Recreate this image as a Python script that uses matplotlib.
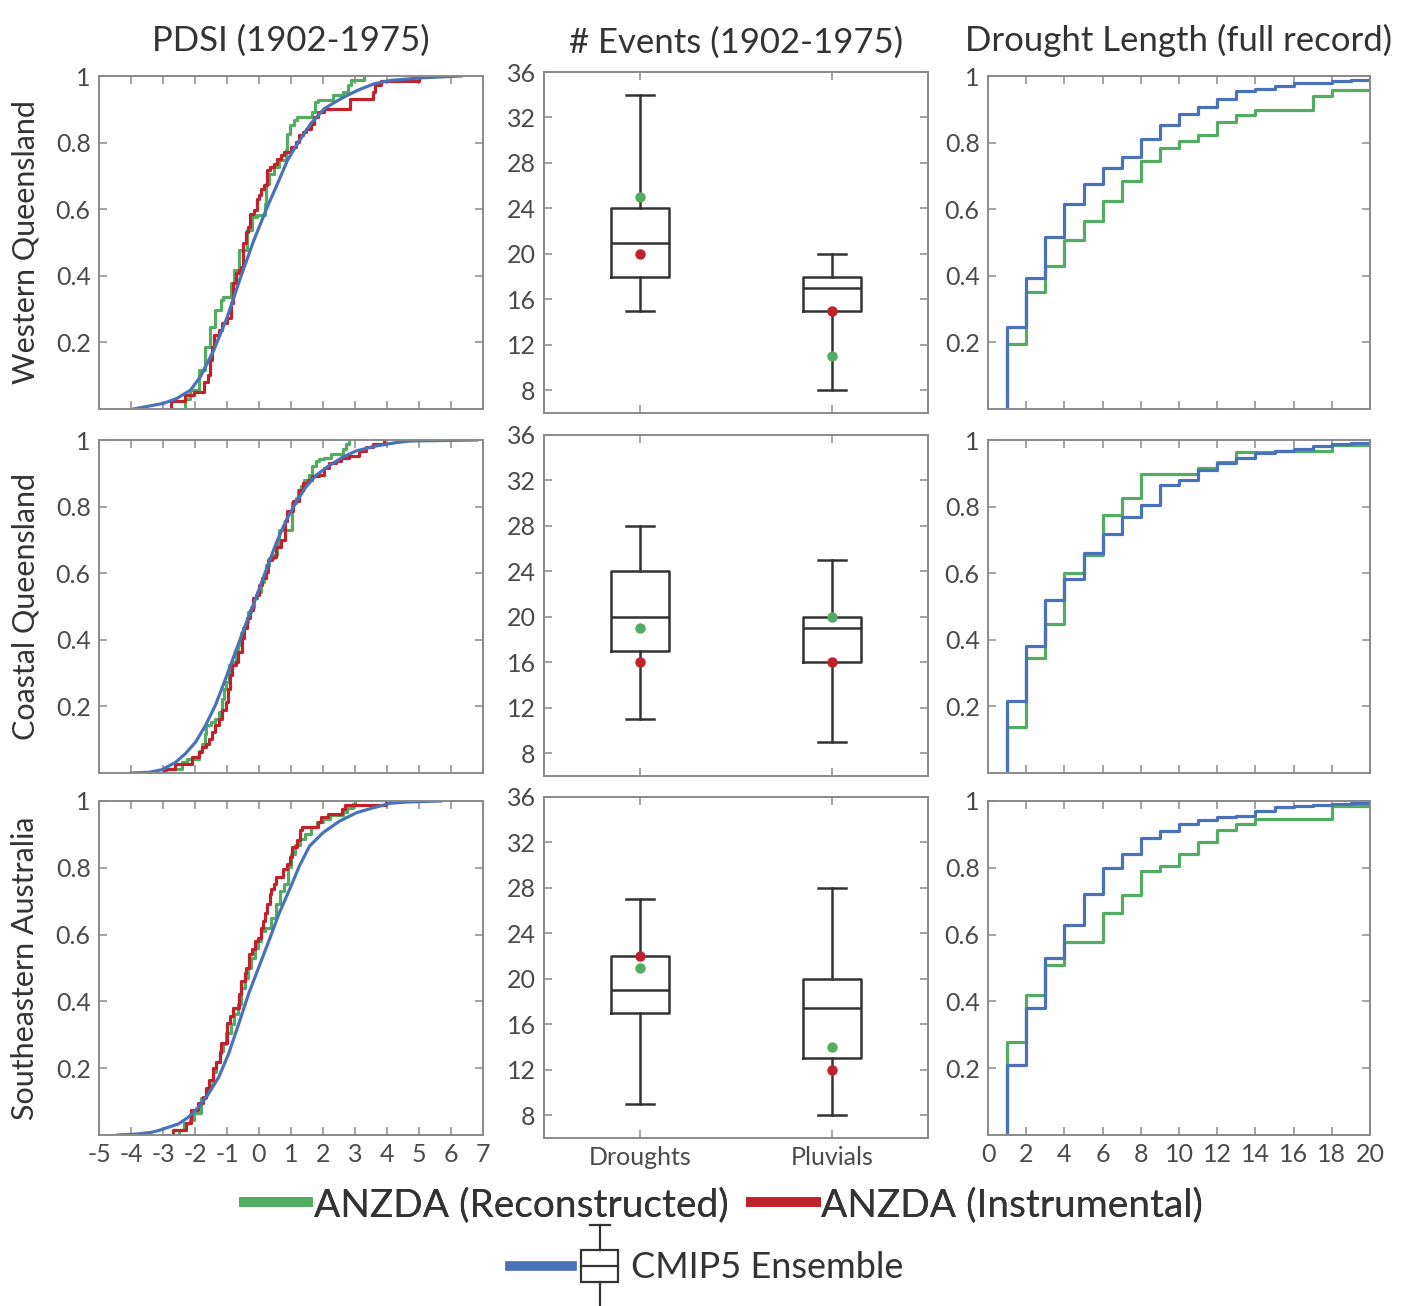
import matplotlib
matplotlib.use("Agg")
import matplotlib.pyplot as plt
from matplotlib.lines import Line2D
from matplotlib.patches import Rectangle
from matplotlib.legend_handler import HandlerBase

plt.rcParams['font.family'] = ['Lato', 'DejaVu Sans']
plt.rcParams['font.weight'] = 'normal'
plt.rcParams['axes.unicode_minus'] = False

GREEN = '#52ad62'
RED = '#c0222b'
BLUE = '#4a72b8'
BOXC = '#333333'
AXC = '#8a8a8a'

regions = ['Western Queensland', 'Coastal Queensland', 'Southeastern Australia']
titles = ['PDSI (1902-1975)', '# Events (1902-1975)', 'Drought Length (full record)']

wq_recon_x = [-2.30, -2.30, -2.16, -1.88, -1.70, -1.52, -1.36, -1.20, -1.12, -0.87, -0.78, -0.63, -0.37,
              -0.21, -0.05, 0.18, 0.21, 0.31, 0.47, 0.63, 0.84, 0.89, 0.97, 1.08, 1.20, 1.67, 1.75,
              1.83, 2.30, 2.61, 2.77, 2.87, 3.29]
wq_recon_y = [0.0, 0.03, 0.057, 0.117, 0.187, 0.247, 0.297, 0.327, 0.337, 0.377, 0.417, 0.477, 0.537,
              0.577, 0.582, 0.617, 0.677, 0.707, 0.727, 0.747, 0.777, 0.827, 0.852, 0.867, 0.877, 0.892, 0.922,
              0.927, 0.942, 0.952, 0.972, 0.987, 1.0]
wq_instr_x = [-2.75, -2.75, -2.30, -2.04, -1.72, -1.60, -1.52, -1.46, -1.41, -1.25, -1.15, -0.99, -0.87,
              -0.80, -0.73, -0.63, -0.55, -0.49, -0.42, -0.34, -0.28, -0.16, -0.07, 0.00, 0.07, 0.16,
              0.24, 0.34, 0.47, 0.55, 0.68, 0.78, 0.99, 1.15, 1.25, 1.36, 1.46, 1.62, 1.72, 1.83, 2.04,
              2.85, 3.55, 3.61, 3.81, 5.00]
wq_instr_y = [0.0, 0.025, 0.042, 0.052, 0.082, 0.102, 0.147, 0.187, 0.222, 0.237, 0.257, 0.272, 0.317,
              0.377, 0.407, 0.417, 0.427, 0.497, 0.532, 0.547, 0.587, 0.597, 0.632, 0.642, 0.662, 0.672,
              0.717, 0.727, 0.737, 0.752, 0.762, 0.772, 0.787, 0.802, 0.822, 0.832, 0.842, 0.857, 0.877,
              0.892, 0.902, 0.932, 0.952, 0.972, 0.985, 1.0]
wq_cmip_x = [-3.92, -2.98, -2.56, -2.14, -1.83, -1.41, -0.99, -0.57, -0.16, 0.26, 0.58, 0.89, 1.20,
             1.62, 2.04, 2.56, 3.08, 3.61, 4.13, 5.17, 6.32]
wq_cmip_y = [0.0, 0.017, 0.032, 0.057, 0.097, 0.177, 0.277, 0.397, 0.507, 0.607, 0.677, 0.747, 0.797,
             0.857, 0.902, 0.932, 0.957, 0.977, 0.987, 0.995, 1.0]

cq_recon_x = [-2.94, -2.92, -2.40, -2.24, -1.88, -1.77, -1.69, -1.65, -1.51, -1.36, -1.25, -1.17, -1.10,
              -1.02, -0.94, -0.84, -0.73, -0.65, -0.57, -0.50, -0.42, -0.33, -0.26, -0.16, -0.05, 0.05,
              0.16, 0.21, 0.31, 0.47, 0.57, 0.63, 1.04, 1.15, 1.23, 1.30, 1.41, 1.57, 1.67, 1.77, 1.88,
              2.04, 2.24, 2.61, 2.71, 2.82]
cq_recon_y = [0.0, 0.012, 0.032, 0.042, 0.067, 0.087, 0.118, 0.143, 0.153, 0.163, 0.183, 0.223, 0.253,
              0.273, 0.324, 0.334, 0.369, 0.384, 0.419, 0.434, 0.454, 0.484, 0.499, 0.525, 0.545, 0.575,
              0.595, 0.625, 0.645, 0.655, 0.685, 0.731, 0.811, 0.826, 0.851, 0.861, 0.881, 0.896, 0.922,
              0.937, 0.942, 0.947, 0.959, 0.972, 0.987, 1.0]
cq_instr_x = [-2.97, -2.97, -2.61, -2.09, -1.88, -1.77, -1.67, -1.57, -1.46, -1.36, -1.25, -1.15, -1.04,
              -0.96, -0.92, -0.84, -0.73, -0.65, -0.54, -0.47, -0.37, -0.29, -0.19, -0.10, 0.00, 0.10,
              0.21, 0.29, 0.42, 0.54, 0.68, 0.81, 0.86, 1.06, 1.25, 1.38, 1.54, 1.67, 1.88, 2.04, 2.19,
              2.40, 2.56, 2.82, 3.13, 3.34, 3.57, 3.91]
cq_instr_y = [0.0, 0.012, 0.027, 0.047, 0.062, 0.077, 0.087, 0.103, 0.123, 0.143, 0.163, 0.188, 0.213,
              0.253, 0.293, 0.324, 0.334, 0.364, 0.404, 0.434, 0.464, 0.489, 0.525, 0.535, 0.565, 0.585,
              0.605, 0.640, 0.650, 0.680, 0.701, 0.756, 0.786, 0.816, 0.851, 0.871, 0.881, 0.891, 0.896,
              0.917, 0.932, 0.937, 0.947, 0.952, 0.967, 0.979, 0.987, 1.0]
cq_cmip_x = [-4.00, -3.44, -3.03, -2.61, -2.30, -1.98, -1.67, -1.36, -1.04, -0.73, -0.42, -0.10, 0.21,
             0.52, 0.84, 1.15, 1.46, 1.77, 2.19, 2.61, 3.03, 3.65, 4.28, 4.70, 6.80]
cq_cmip_y = [0.0, 0.002, 0.010, 0.032, 0.058, 0.093, 0.143, 0.204, 0.284, 0.365, 0.445, 0.525, 0.606,
             0.686, 0.757, 0.812, 0.858, 0.893, 0.923, 0.948, 0.967, 0.982, 0.992, 0.997, 1.0]

se_recon_x = [-2.54, -2.49, -2.33, -2.17, -2.02, -1.81, -1.65, -1.55, -1.44, -1.34, -1.23, -1.13, -1.02,
              -0.89, -0.78, -0.66, -0.55, -0.45, -0.34, -0.24, -0.14, -0.03, 0.07, 0.18, 0.39, 0.54,
              0.65, 0.78, 0.91, 1.01, 1.12, 1.27, 1.43, 1.64, 1.80, 2.01, 2.22, 2.63, 2.74, 2.95, 3.00]
se_recon_y = [0.0, 0.015, 0.035, 0.045, 0.065, 0.110, 0.135, 0.150, 0.190, 0.220, 0.251, 0.271, 0.306,
              0.331, 0.361, 0.391, 0.441, 0.471, 0.501, 0.531, 0.561, 0.581, 0.611, 0.621, 0.651, 0.691,
              0.731, 0.752, 0.802, 0.842, 0.867, 0.887, 0.902, 0.922, 0.937, 0.947, 0.957, 0.967, 0.980,
              0.992, 1.0]
se_instr_x = [-2.70, -2.70, -2.28, -2.12, -1.91, -1.76, -1.65, -1.55, -1.44, -1.34, -1.23, -1.18, -0.99,
              -0.92, -0.82, -0.64, -0.55, -0.45, -0.40, -0.32, -0.22, -0.14, -0.03, 0.05, 0.13, 0.18,
              0.26, 0.33, 0.39, 0.47, 0.54, 0.75, 0.89, 0.96, 1.03, 1.20, 1.27, 1.33, 1.85, 1.95, 2.16,
              2.58, 2.69, 3.96]
se_instr_y = [0.0, 0.015, 0.035, 0.075, 0.095, 0.115, 0.140, 0.165, 0.200, 0.220, 0.245, 0.276, 0.336,
              0.356, 0.381, 0.421, 0.461, 0.486, 0.501, 0.541, 0.556, 0.581, 0.591, 0.621, 0.641, 0.666,
              0.691, 0.721, 0.736, 0.752, 0.772, 0.797, 0.812, 0.832, 0.862, 0.882, 0.912, 0.922, 0.937,
              0.952, 0.962, 0.977, 0.987, 1.0]
se_cmip_x = [-4.42, -3.79, -3.37, -3.15, -2.84, -2.52, -2.21, -1.89, -1.58, -1.26, -0.95, -0.63, -0.32,
             0.00, 0.32, 0.63, 0.95, 1.26, 1.58, 2.00, 2.52, 3.05, 3.58, 4.10, 4.63, 5.68]
se_cmip_y = [0.0, 0.003, 0.008, 0.013, 0.023, 0.033, 0.053, 0.083, 0.123, 0.173, 0.243, 0.334, 0.424,
             0.504, 0.584, 0.664, 0.734, 0.805, 0.865, 0.905, 0.940, 0.965, 0.980, 0.993, 0.997, 1.0]

pdsi = [
    (wq_recon_x, wq_recon_y, wq_instr_x, wq_instr_y, wq_cmip_x, wq_cmip_y),
    (cq_recon_x, cq_recon_y, cq_instr_x, cq_instr_y, cq_cmip_x, cq_cmip_y),
    (se_recon_x, se_recon_y, se_instr_x, se_instr_y, se_cmip_x, se_cmip_y),
]

# ---- number of events: CMIP5 box stats + ANZDA points ----
event_groups = ['Droughts', 'Pluvials']
# (whislo, q1, med, q3, whishi)
wq_box = [(15, 18, 21, 24, 34), (8, 15, 17, 18, 20)]
cq_box = [(11, 17, 20, 24, 28), (9, 16, 19, 20, 25)]
se_box = [(9, 17, 19, 22, 27), (8, 13, 17.4, 20, 28)]
wq_recon_events = [25, 11]
wq_instr_events = [20, 15]
cq_recon_events = [19, 20]
cq_instr_events = [16, 16]
se_recon_events = [21, 14]
se_instr_events = [22, 12]
events = [
    (wq_box, wq_recon_events, wq_instr_events),
    (cq_box, cq_recon_events, cq_instr_events),
    (se_box, se_recon_events, se_instr_events),
]

# ---- drought length CDFs ----
length_years = [1, 2, 3, 4, 5, 6, 7, 8, 9, 10, 11, 12, 13, 14, 15, 16, 17, 18, 19, 20]
wq_len_recon = [0.194, 0.351, 0.430, 0.508, 0.566, 0.626, 0.685, 0.744, 0.784, 0.805, 0.824, 0.862,
                0.882, 0.899, 0.899, 0.899, 0.941, 0.959, 0.959, 0.959]
wq_len_cmip = [0.247, 0.394, 0.516, 0.617, 0.676, 0.724, 0.758, 0.811, 0.853, 0.886, 0.906, 0.931,
               0.955, 0.961, 0.969, 0.979, 0.980, 0.984, 0.987, 0.989]
cq_len_recon = [0.138, 0.344, 0.448, 0.602, 0.656, 0.774, 0.827, 0.898, 0.898, 0.898, 0.915, 0.933,
                0.965, 0.965, 0.968, 0.968, 0.968, 0.984, 0.984, 0.984]
cq_len_cmip = [0.215, 0.381, 0.519, 0.583, 0.661, 0.719, 0.768, 0.806, 0.865, 0.881, 0.911, 0.930,
               0.947, 0.960, 0.967, 0.974, 0.982, 0.988, 0.991, 0.991]
se_len_recon = [0.279, 0.420, 0.509, 0.579, 0.579, 0.666, 0.719, 0.789, 0.806, 0.841, 0.877, 0.912,
                0.932, 0.947, 0.947, 0.947, 0.947, 0.985, 0.985, 0.985]
se_len_cmip = [0.209, 0.379, 0.531, 0.629, 0.721, 0.798, 0.840, 0.889, 0.910, 0.932, 0.944, 0.951,
               0.955, 0.970, 0.981, 0.986, 0.988, 0.992, 0.995, 0.995]
lengths = [(wq_len_recon, wq_len_cmip), (cq_len_recon, cq_len_cmip), (se_len_recon, se_len_cmip)]

W, H = 1413, 1306
fig = plt.figure(figsize=(W / 100, H / 100), dpi=100)

# axes boxes in pixels
left_cols = [(99, 483), (544, 928), (988, 1370)]
rows_lr = [(76, 409), (440, 773), (801, 1135)]
rows_mid = [(72, 413), (435, 776), (797, 1138)]


def px_axes(x0, x1, y0, y1):
    return fig.add_axes([x0 / W, 1 - y1 / H, (x1 - x0) / W, (y1 - y0) / H])


def style(ax):
    for sp in ax.spines.values():
        sp.set_color(AXC)
        sp.set_linewidth(1.4)
    ax.tick_params(direction='in', top=True, right=True, length=6, width=1.1, color=AXC,
                   labelsize=18, labelcolor='#4a4a4a', pad=6)


lw = 2.3
for r in range(3):
    # PDSI
    ax = px_axes(*left_cols[0], *rows_lr[r])
    gx, gy, rx, ry, bx, by = pdsi[r]
    ax.step(gx, gy, where='post', color=GREEN, lw=lw)
    ax.step(rx, ry, where='post', color=RED, lw=lw)
    ax.plot(bx, by, color=BLUE, lw=lw)
    ax.set_xlim(-5, 7)
    ax.set_ylim(0, 1)
    ax.set_xticks(range(-5, 8))
    ax.set_yticks([0.2, 0.4, 0.6, 0.8, 1.0])
    ax.set_yticklabels(['0.2', '0.4', '0.6', '0.8', '1'])
    style(ax)
    if r < 2:
        ax.set_xticklabels([])
    ax.set_ylabel(regions[r], fontsize=22, color='#333333')
    ax.yaxis.set_label_coords(-0.155, 0.5)
    if r == 0:
        ax.set_title(titles[0], fontsize=25, color='#333333', pad=18)

    # events boxplots
    ax = px_axes(*left_cols[1], *rows_mid[r])
    box, rec, ins = events[r]
    stats = [dict(whislo=b[0], q1=b[1], med=b[2], q3=b[3], whishi=b[4], fliers=[], label=lab)
             for b, lab in zip(box, event_groups)]
    ax.bxp(stats, positions=[1, 2], widths=0.3, showfliers=False,
           boxprops=dict(color=BOXC, lw=1.8), medianprops=dict(color=BOXC, lw=1.8),
           whiskerprops=dict(color=BOXC, lw=1.8), capprops=dict(color=BOXC, lw=1.8))
    ax.plot([1, 2], rec, 'o', color=GREEN, ms=6.5, zorder=5)
    ax.plot([1, 2], ins, 'o', color=RED, ms=6.5, zorder=5)
    ax.set_xlim(0.5, 2.5)
    ax.set_ylim(6, 36)
    ax.set_yticks(range(8, 37, 4))
    ax.set_xticks([1, 2])
    style(ax)
    if r < 2:
        ax.set_xticklabels([])
    else:
        ax.set_xticklabels(event_groups)
    if r == 0:
        ax.set_title(titles[1], fontsize=25, color='#333333', pad=14)

    # drought length
    ax = px_axes(*left_cols[2], *rows_lr[r])
    rec_len, cm_len = lengths[r]
    ax.step([length_years[0]] + length_years, [0] + rec_len, where='post', color=GREEN, lw=lw)
    ax.step([length_years[0]] + length_years, [0] + cm_len, where='post', color=BLUE, lw=lw)
    ax.set_xlim(0, 20)
    ax.set_ylim(0, 1)
    ax.set_xticks(range(0, 21, 2))
    ax.set_yticks([0.2, 0.4, 0.6, 0.8, 1.0])
    ax.set_yticklabels(['0.2', '0.4', '0.6', '0.8', '1'])
    style(ax)
    if r < 2:
        ax.set_xticklabels([])
    if r == 0:
        ax.set_title(titles[2], fontsize=25, color='#333333', pad=18)


class HandlerLineBox(HandlerBase):
    """Blue bar followed by a small box-and-whisker glyph."""
    def create_artists(self, legend, orig_handle, xdescent, ydescent, width, height, fontsize, trans):
        cy = height / 2 - ydescent
        x0 = -xdescent
        bar = Line2D([x0, x0 + 0.57 * width], [cy, cy], color=BLUE, lw=7, transform=trans)
        bw = 0.34 * width
        bx0 = x0 + width - bw
        bh = 0.9 * fontsize
        kw = dict(color=BOXC, lw=1.6, transform=trans)
        rect = Rectangle((bx0, cy - bh / 2), bw, bh, fill=False, ec=BOXC, lw=1.6, transform=trans)
        med = Line2D([bx0, bx0 + bw], [cy, cy], **kw)
        xm = bx0 + bw / 2
        top = cy + 1.05 * fontsize + 0.1 * bh
        bot = cy - 1.05 * fontsize - 0.1 * bh
        wu = Line2D([xm, xm], [cy + bh / 2, top], **kw)
        wd = Line2D([xm, xm], [cy - bh / 2, bot], **kw)
        cu = Line2D([xm - bw * 0.27, xm + bw * 0.27], [top, top], **kw)
        cd = Line2D([xm - bw * 0.27, xm + bw * 0.27], [bot, bot], **kw)
        return [bar, rect, med, wu, wd, cu, cd]


h_green = Line2D([], [], color=GREEN, lw=7)
h_red = Line2D([], [], color=RED, lw=7)
leg1 = fig.legend([h_green, h_red], ['ANZDA (Reconstructed)', 'ANZDA (Instrumental)'],
                  loc='center', bbox_to_anchor=(0.512, 1 - 1205 / H), ncol=2, frameon=False,
                  fontsize=28, handlelength=1.65, handletextpad=0.15, columnspacing=0.6,
                  labelcolor='#333333')
h_cmip = Line2D([], [], color=BLUE, lw=7)
fig.legend([h_cmip], ['CMIP5 Ensemble'], handler_map={h_cmip: HandlerLineBox()},
           loc='center', bbox_to_anchor=(0.5, 1 - 1268 / H), frameon=False,
           fontsize=26, handlelength=3.0, handletextpad=0.35, labelcolor='#333333')
fig.add_artist(leg1)

fig.savefig('out.png', dpi=100, facecolor='white')
